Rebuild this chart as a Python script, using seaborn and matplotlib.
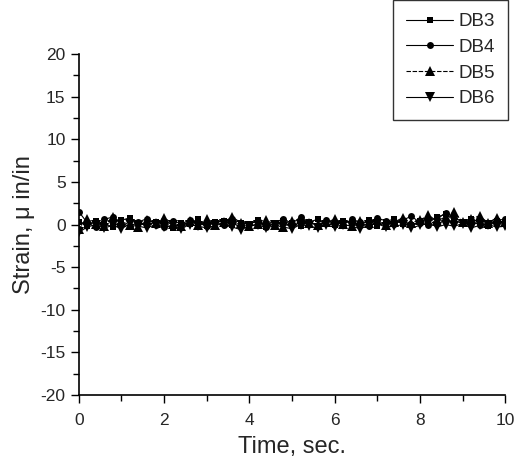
import numpy as np
import pandas as pd
import matplotlib
matplotlib.use("Agg")
import matplotlib.pyplot as plt
import seaborn as sns
from matplotlib.ticker import MultipleLocator

# Datos (deformación en µin/in, cada 0.2 s)
tiempo = np.linspace(0, 10, 51)

db3 = [0.3, -0.2, 0.4, 0.1, -0.3, 0.5, 0.8, 0.2, -0.1, 0.3,
       0.0, -0.4, 0.2, 0.1, 0.6, -0.2, 0.3, 0.4, -0.1, 0.2,
       0.0, 0.5, -0.3, 0.1, 0.4, 0.2, -0.2, 0.3, 0.6, 0.1,
       -0.1, 0.4, 0.2, 0.0, 0.5, -0.2, 0.3, 0.7, 0.1, -0.1,
       0.4, 0.2, 0.9, 1.2, 0.5, 0.1, 0.6, 0.3, -0.2, 0.4,
       0.2]
db4 = [1.5, 0.2, -0.3, 0.6, 0.9, 0.1, -0.2, 0.3, 0.7, 0.0,
       -0.3, 0.4, 0.1, 0.5, 0.2, -0.2, 0.3, 0.0, 0.6, 0.2,
       0.1, 0.4, -0.3, 0.2, 0.7, 0.1, 0.9, 0.3, -0.1, 0.5,
       0.2, 0.0, 0.6, 0.3, -0.2, 0.8, 0.4, 0.1, 0.5, 1.0,
       0.2, -0.1, 0.6, 1.4, 0.8, 0.3, 0.5, -0.1, 0.2, 0.4,
       0.7]
db5 = [-0.5, 0.6, 0.1, -0.2, 0.9, 0.3, 0.0, -0.3, 0.5, 0.2,
       0.8, 0.1, -0.2, 0.4, 0.0, 0.6, -0.1, 0.3, 0.9, 0.2,
       -0.2, 0.1, 0.5, 0.0, -0.3, 0.4, 0.7, 0.2, -0.1, 0.3,
       0.6, 0.1, -0.2, 0.4, 0.2, 0.5, -0.1, 0.3, 0.8, 0.2,
       0.5, 1.1, 0.4, 0.9, 1.5, 0.3, 0.7, 1.0, 0.2, 0.8,
       0.3]
db6 = [-0.9, -0.3, 0.0, -0.4, -0.1, -0.5, 0.1, -0.2, -0.4, 0.0,
       -0.3, -0.1, -0.5, 0.0, -0.2, -0.4, -0.1, 0.1, -0.3, -0.6,
       -0.2, 0.0, -0.4, -0.1, -0.3, -0.5, 0.0, -0.2, -0.4, -0.1,
       -0.3, 0.0, -0.2, -0.5, -0.1, 0.1, -0.3, -0.2, 0.0, -0.4,
       -0.1, 0.2, -0.3, 0.0, -0.2, 0.1, -0.4, -0.1, 0.0, -0.3,
       -0.2]

series = ["DB3", "DB4", "DB5", "DB6"]
valores = [db3, db4, db5, db6]
marcadores = ["s", "o", "^", "v"]
tamanos = [5, 5, 6.5, 6.5]
estilos = ["-", "-", (0, (4, 1.5)), "-"]

sns.set_style("ticks")
plt.rcParams["font.family"] = ["Liberation Sans", "DejaVu Sans"]
plt.rcParams["axes.unicode_minus"] = False

fig = plt.figure(figsize=(5.15, 4.62), dpi=100)
ax = fig.add_axes([0.153, 0.145, 0.828, 0.738])

for nombre, vals, m, ms, ls in zip(series, valores, marcadores, tamanos, estilos):
    df = pd.DataFrame({"t": tiempo, "e": vals})
    sns.lineplot(data=df, x="t", y="e", ax=ax, color="black", linewidth=0.8,
                 linestyle=ls, marker=m, markersize=ms, markeredgewidth=0,
                 label=nombre)

ax.set_xlim(0, 10)
ax.set_ylim(-20, 20)
ax.xaxis.set_major_locator(MultipleLocator(2))
ax.xaxis.set_minor_locator(MultipleLocator(1))
ax.yaxis.set_major_locator(MultipleLocator(5))
ax.yaxis.set_minor_locator(MultipleLocator(2.5))
ax.tick_params(which="major", length=6, width=1.0, labelsize=12.5, color="black")
ax.tick_params(axis="x", which="major", pad=7)
ax.tick_params(which="minor", length=4, width=1.0, color="black")
ax.spines["top"].set_visible(False)
ax.spines["right"].set_visible(False)
for s in ["left", "bottom"]:
    ax.spines[s].set_linewidth(1.2)
    ax.spines[s].set_color("black")

ax.set_xlabel("Time, sec.", fontsize=17, labelpad=6)
ax.set_ylabel("Strain, μ in/in", fontsize=17, labelpad=4)

leg = ax.legend(loc="upper right", bbox_to_anchor=(1.005, 1.02),
                bbox_transform=fig.transFigure, frameon=True, fontsize=13.5,
                handlelength=2.5, handletextpad=0.3, borderpad=0.7,
                labelspacing=0.45, fancybox=False)
leg.get_frame().set_edgecolor("black")
leg.get_frame().set_linewidth(1.0)

fig.savefig("out.png", dpi=100)
